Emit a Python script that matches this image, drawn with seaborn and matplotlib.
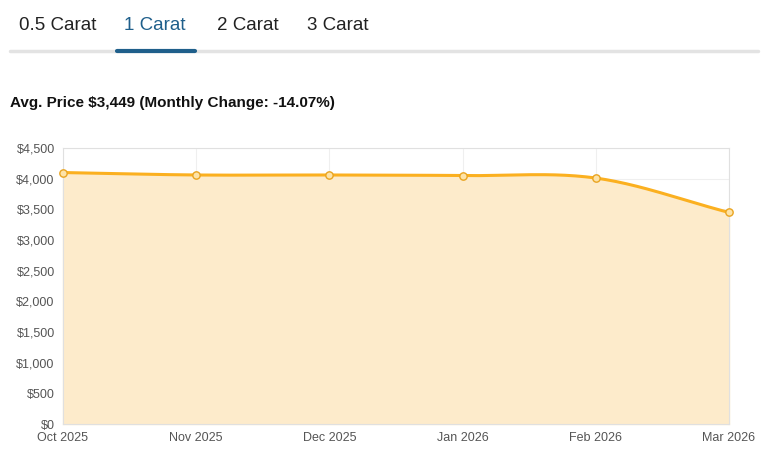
import matplotlib
matplotlib.use("Agg")
import matplotlib.pyplot as plt
import seaborn as sns
import numpy as np
import pandas as pd
from matplotlib.lines import Line2D

months = ["Oct 2025", "Nov 2025", "Dec 2025", "Jan 2026", "Feb 2026", "Mar 2026"]
prices = [4100, 4060, 4060, 4050, 4010, 3449]
tabs = ["0.5 Carat", "1 Carat", "2 Carat", "3 Carat"]
yticks = list(range(0, 4501, 500))

sns.set_theme(style="white")
plt.rcParams['font.family'] = ['Liberation Sans', 'DejaVu Sans']

W, H = 766, 468
fig = plt.figure(figsize=(W/100, H/100), dpi=100)

tab_x = [58, 155, 248, 338]
for t, x in zip(tabs, tab_x):
    fig.text(x/W, 1-26/H, t, ha="center", va="center", fontsize=13.5,
             color="#1f5f8b" if t == "1 Carat" else "#222222")
fig.add_artist(Line2D([10/W, 758/W], [1-51/H]*2, color="#e3e3e3", lw=2.5))
fig.add_artist(Line2D([117/W, 195/W], [1-51/H]*2, color="#1f5f8b", lw=3))
fig.text(10/W, 1-103/H, "Avg. Price $3,449 (Monthly Change: -14.07%)",
         ha="left", va="center", fontsize=11, fontweight="bold", color="#111")

ax = fig.add_axes([63/W, 1-424/H, (729-63)/W, (424-148)/H])
x = np.arange(len(months))
y = np.array(prices, float)

def smooth(x, y, n=40, t=1.0):
    xs, ys = [], []
    for i in range(len(x)-1):
        p0 = i-1 if i > 0 else i
        p3 = i+2 if i+2 < len(x) else i+1
        m1 = (y[i+1]-y[p0])/(x[i+1]-x[p0])
        m2 = (y[p3]-y[i])/(x[p3]-x[i])
        s = np.linspace(0, 1, n)
        h00 = 2*s**3-3*s**2+1; h10 = s**3-2*s**2+s
        h01 = -2*s**3+3*s**2; h11 = s**3-s**2
        dx = x[i+1]-x[i]
        xs.append(x[i]+s*dx)
        ys.append(h00*y[i]+h10*dx*m1*t+h01*y[i+1]+h11*dx*m2*t)
    return np.concatenate(xs), np.concatenate(ys)

sx, sy = smooth(x, y)
ax.fill_between(sx, 0, sy, color="#fdebcb", zorder=1)
sns.lineplot(x=sx, y=sy, ax=ax, color="#fbb020", lw=2.2, zorder=3)
pts = sns.scatterplot(x=x, y=y, ax=ax, s=28, color="#fde3a8", edgecolor="#e9a420",
                      linewidth=1, zorder=4)
for c in ax.collections:
    c.set_clip_on(False)

ax.set_xlim(0, len(months)-1)
ax.set_ylim(0, 4500)
ax.set_yticks(yticks)
ax.set_yticklabels([f"${v:,}" for v in yticks])
ax.set_xticks(x)
ax.set_xticklabels(months)
ax.tick_params(labelsize=9, colors="#555", length=0, pad=6)
ax.grid(True, color="#efefef", lw=0.8)
for s in ax.spines.values():
    s.set_color("#e0e0e0"); s.set_linewidth(0.8)
ax.set_xlabel(""); ax.set_ylabel("")

fig.savefig("out.png", dpi=100)
